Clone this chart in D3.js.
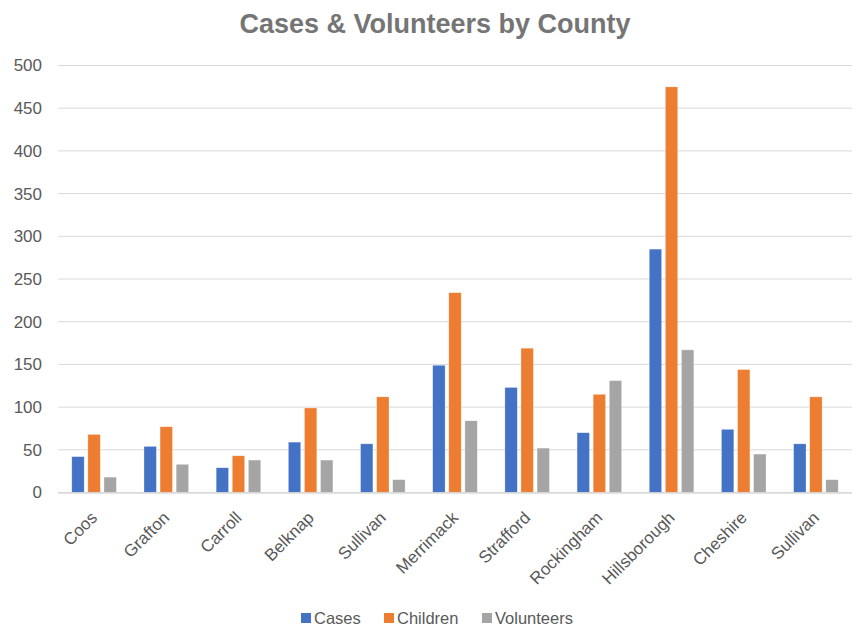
<!DOCTYPE html>
<html lang="en">
<head>
  <meta charset="UTF-8">
  <title>Cases & Volunteers by County</title>
  <script src="https://cdnjs.cloudflare.com/ajax/libs/d3/7.8.5/d3.min.js"></script>
  <style>
    body { margin: 0; background: #fff; }
    text { font-family: "Liberation Sans", Arial, sans-serif; fill: #595959; }
    .title { font-size: 27px; font-weight: bold; fill: #757575; }
    .tick text { font-size: 17px; }
    .grid line { stroke: #d9d9d9; stroke-width: 1px; }
    .legend text { font-size: 16.5px; }
  </style>
</head>
<body>
  <div id="chart"></div>
  <script>
    const counties = ["Coos", "Grafton", "Carroll", "Belknap", "Sullivan", "Merrimack",
      "Strafford", "Rockingham", "Hillsborough", "Cheshire", "Sullivan"];
    const series = ["Cases", "Children", "Volunteers"];
    const cases = [42, 54, 29, 59, 57, 149, 123, 70, 285, 74, 57];
    const children = [68, 77, 43, 99, 112, 234, 169, 115, 475, 144, 112];
    const volunteers = [18, 33, 38, 38, 15, 84, 52, 131, 167, 45, 15];
    const yTicks = [0, 50, 100, 150, 200, 250, 300, 350, 400, 450, 500];
    const colors = ["#4472C4", "#ED7D31", "#A5A5A5"];

    const width = 853;
    const height = 628;
    const margin = { top: 65.5, right: 1, bottom: 135.5, left: 58 };

    const rows = counties.map((c, i) => ({ idx: i, name: c, values: [cases[i], children[i], volunteers[i]] }));

    const svg = d3.select("#chart")
      .append("svg")
      .attr("width", width)
      .attr("height", height);

    svg.append("text")
      .attr("class", "title")
      .attr("x", 435)
      .attr("y", 33)
      .attr("text-anchor", "middle")
      .text("Cases & Volunteers by County");

    const x0 = d3.scaleBand()
      .domain(d3.range(counties.length))
      .range([margin.left, width - margin.right]);

    const gPad = 13.8;
    const x1 = d3.scaleBand()
      .domain(series)
      .range([gPad, x0.bandwidth() - gPad])
      .paddingInner(0.23);

    const y = d3.scaleLinear()
      .domain([0, 500])
      .range([height - margin.bottom, margin.top]);

    // gridlines
    svg.append("g")
      .attr("class", "grid")
      .selectAll("line")
      .data(yTicks)
      .join("line")
      .attr("x1", margin.left)
      .attr("x2", width - margin.right)
      .attr("y1", d => y(d))
      .attr("y2", d => y(d));

    // y axis labels
    const yAxis = svg.append("g")
      .attr("transform", `translate(42,0)`)
      .call(d3.axisLeft(y).tickValues(yTicks).tickSize(0).tickPadding(0));
    yAxis.select(".domain").remove();

    // bars
    const group = svg.append("g")
      .selectAll("g")
      .data(rows)
      .join("g")
      .attr("transform", d => `translate(${x0(d.idx)},0)`);

    group.selectAll("rect")
      .data(d => d.values.map((v, k) => ({ key: series[k], value: v, k })))
      .join("rect")
      .attr("x", d => x1(d.key))
      .attr("y", d => y(d.value))
      .attr("width", x1.bandwidth())
      .attr("height", d => y(0) - y(d.value))
      .attr("fill", d => colors[d.k])
      .attr("stroke", "#fff")
      .attr("stroke-opacity", 0.5)
      .attr("stroke-width", 0.6);

    // baseline
    svg.append("line")
      .attr("x1", margin.left)
      .attr("x2", width - margin.right)
      .attr("y1", y(0) + 0.5)
      .attr("y2", y(0) + 0.5)
      .attr("stroke", "#d9d9d9")
      .attr("stroke-width", 1.5);

    // x labels, rotated
    svg.append("g")
      .selectAll("text")
      .data(rows)
      .join("text")
      .attr("text-anchor", "end")
      .attr("font-size", "17px")
      .attr("transform", d => `translate(${x0(d.idx) + x0.bandwidth() / 2},${y(0) + 22}) rotate(-45)`)
      .attr("dy", "0.35em")
      .text(d => d.name);

    // legend
    const legendX = [301, 384, 482];
    const legend = svg.append("g")
      .attr("class", "legend")
      .selectAll("g")
      .data(series)
      .join("g")
      .attr("transform", (d, i) => `translate(${legendX[i]},618)`);

    legend.append("rect")
      .attr("x", 0)
      .attr("y", -5)
      .attr("width", 10)
      .attr("height", 10)
      .attr("fill", (d, i) => colors[i]);

    legend.append("text")
      .attr("x", 13)
      .attr("dy", "0.35em")
      .text(d => d);
  </script>
</body>
</html>
